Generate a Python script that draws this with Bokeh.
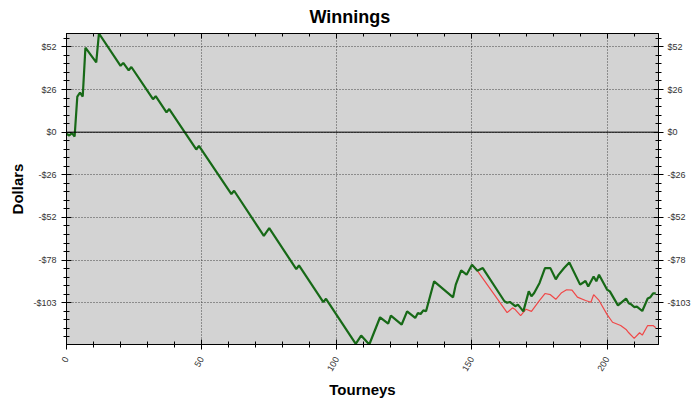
import math
from bokeh.plotting import figure
from bokeh.models import Range1d, LinearAxis, FixedTicker, CustomJSTickFormatter, Span
from bokeh.embed import file_html
from bokeh.resources import INLINE

# ---- data ----
tourney = [0, 1, 2, 3, 4, 5, 6, 7, 11, 12, 20, 21, 23, 24, 32, 33, 37, 38, 48, 49,
           61, 62, 73, 75, 85, 86, 95, 96, 107, 109, 112, 116, 119, 120, 124, 126,
           129, 130, 131, 132, 133, 136, 143, 144, 146, 148, 150, 152, 154, 162,
           163, 164, 166, 167, 169, 171, 172, 173, 175, 177, 179, 181, 182, 184,
           186, 190, 192, 193, 195, 196, 197, 200, 201, 204, 207, 208, 209, 210,
           211, 213, 215, 216, 217, 218]
winnings = [-1, -2, -0.6, -2.6, 21.6, 24, 21.6, 51.2, 42.3, 59.8, 40.2, 42, 37.5, 39.5,
            20, 21.8, 12, 14, -10.5, -8.3, -37.5, -35.5, -62.8, -58.2, -83, -80.8,
            -103, -101, -128.3, -123.3, -128.7, -112.2, -116, -111.2, -116.6, -108.6,
            -112.6, -109.6, -110.2, -108, -108.6, -90.4, -100.1, -92.4, -83.8, -86.4,
            -80.4, -84, -82.4, -102.5, -103.4, -102.9, -105.5, -104.5, -108.6, -96.5,
            -99.5, -97.5, -91.4, -82.4, -82.4, -89.2, -86.5, -82.5, -79, -92.4, -90.2,
            -93.5, -87.5, -90.4, -86.4, -95.5, -96.5, -105, -100.9, -103.7, -104.5,
            -106, -105.7, -108.4, -100.8, -100, -97.7, -97.7]

alt_tourney = [150, 152, 153, 163, 165, 166, 168, 170, 172, 175, 177, 179, 181, 183,
               185, 187, 189, 192, 194, 195, 197, 200, 202, 205, 207, 208, 210, 212,
               213, 215, 217, 218]
alt_winnings = [-80.4, -84, -86.4, -109.4, -106.5, -107.5, -111.2, -107.3, -108.6,
                -102, -97.8, -98.5, -101.3, -97.5, -95.5, -95.7, -100, -102, -103.1,
                -98.5, -102, -110.6, -115.2, -117.2, -119.6, -121.6, -125, -121.6,
                -123, -117.2, -117.2, -118.5]

x_major = [0, 50, 100, 150, 200]
x_minor = list(range(0, 220, 10))
y_step = 25.85
y_major = [k * y_step for k in range(-4, 3)]
y_minor = [k * y_step / 5 for k in range(-24, 12)]

FONT = "Liberation Sans"

p = figure(width=700, height=400,
           x_range=Range1d(0, 219), y_range=Range1d(-128.7, 59.8),
           output_backend="svg", toolbar_location=None,
           min_border_left=66, min_border_right=42, min_border_top=33, min_border_bottom=55,
           background_fill_color="#d3d3d3", border_fill_color="white",
           title="Winnings")

p.title.text_font = FONT
p.title.text_font_size = "18px"
p.title.text_font_style = "bold"
p.title.text_color = "black"
p.title.align = "left"
p.title.offset = 243
p.title.vertical_align = "middle"
p.title.standoff = 11

p.outline_line_color = "black"

xt = FixedTicker(ticks=x_major, minor_ticks=x_minor)
yt = FixedTicker(ticks=y_major, minor_ticks=y_minor)
yfmt = CustomJSTickFormatter(code="""
const v = Math.round(tick);
return (v < 0 ? "-" : "") + "$" + Math.abs(v);
""")


def style(ax):
    ax.axis_line_color = "black"
    ax.major_tick_line_color = "black"
    ax.minor_tick_line_color = "black"
    ax.major_tick_in = 5
    ax.major_tick_out = 5
    ax.minor_tick_in = 3
    ax.minor_tick_out = 3
    ax.major_label_text_font = FONT
    ax.major_label_text_font_size = "9px"
    ax.major_label_text_color = "#333333"
    ax.axis_label_text_font = FONT
    ax.axis_label_text_font_size = "15px"
    ax.axis_label_text_font_style = "bold"
    ax.axis_label_text_color = "black"


xa = p.xaxis[0]
style(xa)
xa.ticker = xt
xa.major_label_orientation = math.pi / 3
xa.major_label_standoff = 8
xa.axis_label = "Tourneys"
xa.axis_label_standoff = 4

ya = p.yaxis[0]
style(ya)
ya.ticker = yt
ya.formatter = yfmt
ya.major_label_standoff = 5
ya.axis_label = "Dollars"
ya.axis_label_standoff = 4

ra = LinearAxis(ticker=yt, formatter=yfmt)
style(ra)
ra.major_label_standoff = 4
p.add_layout(ra, "right")

ta = LinearAxis(ticker=xt)
style(ta)
ta.major_tick_out = 0
ta.minor_tick_out = 0
ta.major_label_text_font_size = "0px"
ta.major_label_text_color = None
ta.major_label_standoff = 0
p.add_layout(ta, "above")

for g in (p.xgrid[0], p.ygrid[0]):
    g.grid_line_color = "#444444"
    g.grid_line_dash = "1 2"
    g.grid_line_width = 1
p.xgrid[0].ticker = xt
p.ygrid[0].ticker = yt

p.add_layout(Span(location=0, dimension="width", line_color="black", line_width=1))

p.line(alt_tourney, alt_winnings, line_color="#f04848", line_width=1.2)
p.line(tourney, winnings, line_color="#176917", line_width=2.2)

open("out.html", "w").write(file_html(p, INLINE, title="Winnings"))
